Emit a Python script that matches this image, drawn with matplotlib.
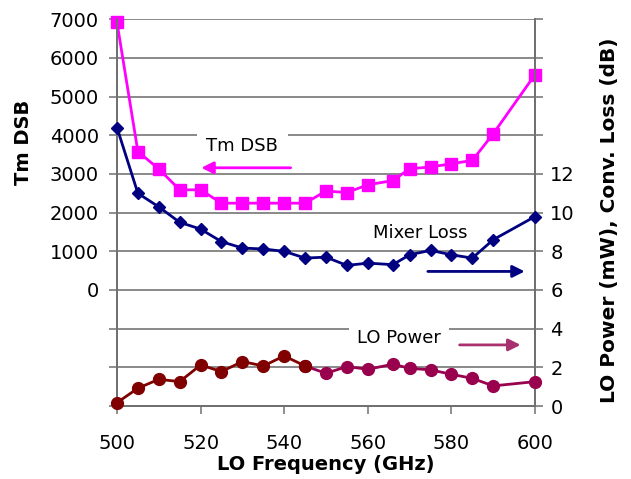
import matplotlib
matplotlib.use("Agg")
from matplotlib import pyplot as plt

plt.rcParams['font.family'] = ['DejaVu Sans']

# frekvencije LO (GHz)
freq = [500, 505, 510, 515, 520, 525, 530, 535, 540, 545,
        550, 555, 560, 566, 570, 575, 580, 585, 590, 600]

# Tm DSB (K), lijeva osa
tm_dsb = [6920, 3580, 3130, 2590, 2590, 2245, 2245, 2245, 2245, 2245,
          2560, 2520, 2720, 2830, 3135, 3180, 3265, 3350, 4040, 5570]

# konverzioni gubitak mjesaca (dB), desna osa
mixer_loss = [14.4, 11.0, 10.3, 9.5, 9.15, 8.5, 8.17, 8.12, 8.0, 7.65,
              7.7, 7.27, 7.39, 7.31, 7.82, 8.05, 7.82, 7.65, 8.6, 9.8]

# LO snaga (mW), desna osa
lo_power = [0.17, 0.92, 1.38, 1.26, 2.12, 1.78, 2.3, 2.07, 2.59, 2.07,
            1.69, 2.04, 1.9, 2.16, 1.95, 1.87, 1.64, 1.43, 1.04, 1.26]

left_ticks = [-3000, -2000, -1000, 0, 1000, 2000, 3000, 4000, 5000, 6000, 7000]
right_ticks = [0, 2, 4, 6, 8, 10, 12, 14, 16, 18, 20]
x_ticks = [500, 520, 540, 560, 580, 600]

spine_c = '#707070'
grid_c = '#6a6a6a'

fig = plt.figure(figsize=(6.31, 4.79), dpi=100)
ax = fig.add_axes([0.1854, 0.1524, 0.8479 - 0.1854, 0.9597 - 0.1524])
ax2 = ax.twinx()

ax.set_xlim(500, 600)
ax.set_ylim(-3000, 7000)
ax2.set_ylim(0, 20)

ax.set_yticks(left_ticks)
ax.set_yticklabels([str(t) if t >= 0 else '' for t in left_ticks])
ax2.set_yticks(right_ticks)
ax2.set_yticklabels([str(t) if t <= 12 else '' for t in right_ticks])
ax.set_xticks(x_ticks)

ax.grid(axis='y', color=grid_c, lw=1.1)
ax.grid(axis='x', visible=False)
ax.set_axisbelow(True)

for a in (ax, ax2):
    for s in a.spines.values():
        s.set_color(spine_c)
        s.set_linewidth(1.3)
    a.spines['top'].set_visible(False)
ax.tick_params(axis='both', direction='out', length=6, width=1.1, color=spine_c,
               labelsize=14, pad=7)
ax2.tick_params(axis='y', direction='out', length=6, width=1.1, color=spine_c,
                labelsize=14, pad=5)
ax.tick_params(axis='x', pad=14)

# Tm DSB
ax.plot(freq, tm_dsb, color='#ff00ff', lw=2.0, marker='s', ms=8.5,
        mec='#ff00ff', mfc='#ff00ff', zorder=3, clip_on=False)

# mixer loss
ax2.plot(freq, mixer_loss, color='#000080', lw=2.0, marker='D', ms=6.5,
         mec='#000080', mfc='#000080', zorder=3, clip_on=False)

# LO power - dva tona boje kao na originalu
ax2.plot(freq[9:], lo_power[9:], color='#99004d', lw=2.0, marker='o', ms=8.5,
         mec='#99004d', mfc='#99004d', zorder=3, clip_on=False)
ax2.plot(freq[:10], lo_power[:10], color='#800000', lw=2.0, marker='o', ms=8.5,
         mec='#800000', mfc='#800000', zorder=4, clip_on=False)

# natpisi sa strelicama
ax.text(530, 3730, 'Tm DSB', fontsize=13, ha='center', va='center', zorder=2,
        bbox=dict(boxstyle='square,pad=0.55', fc='white', ec='none'))
ax.annotate('', xy=(519.5, 3160), xytext=(542.2, 3160),
            arrowprops=dict(arrowstyle='-|>', color='#ff00ff', lw=2.0,
                            mutation_scale=18))

ax2.text(572.5, 8.95, 'Mixer Loss', fontsize=13, ha='center', va='center')
ax2.annotate('', xy=(598.2, 6.96), xytext=(573.7, 6.96),
             arrowprops=dict(arrowstyle='-|>', color='#000080', lw=2.0,
                             mutation_scale=18))

ax2.text(567.5, 3.5, 'LO Power', fontsize=13, ha='center', va='center',
         bbox=dict(boxstyle='square,pad=0.45', fc='white', ec='none'))
ax2.annotate('', xy=(597.2, 3.16), xytext=(581.3, 3.16),
             arrowprops=dict(arrowstyle='-|>', color='#a8306e', lw=2.0,
                             mutation_scale=18))

ax.set_xlabel('LO Frequency (GHz)', fontsize=14, fontweight='bold')
ax.xaxis.set_label_coords(0.5, -0.128)
ax.set_ylabel('Tm DSB', fontsize=14, fontweight='bold')
ax.yaxis.set_label_coords(-0.201, 0.683)
ax2.set_ylabel('LO Power (mW), Conv. Loss (dB)', fontsize=14.5, fontweight='bold')
ax2.yaxis.set_label_coords(1.156, 0.48)

fig.savefig('out.png', dpi=100)
